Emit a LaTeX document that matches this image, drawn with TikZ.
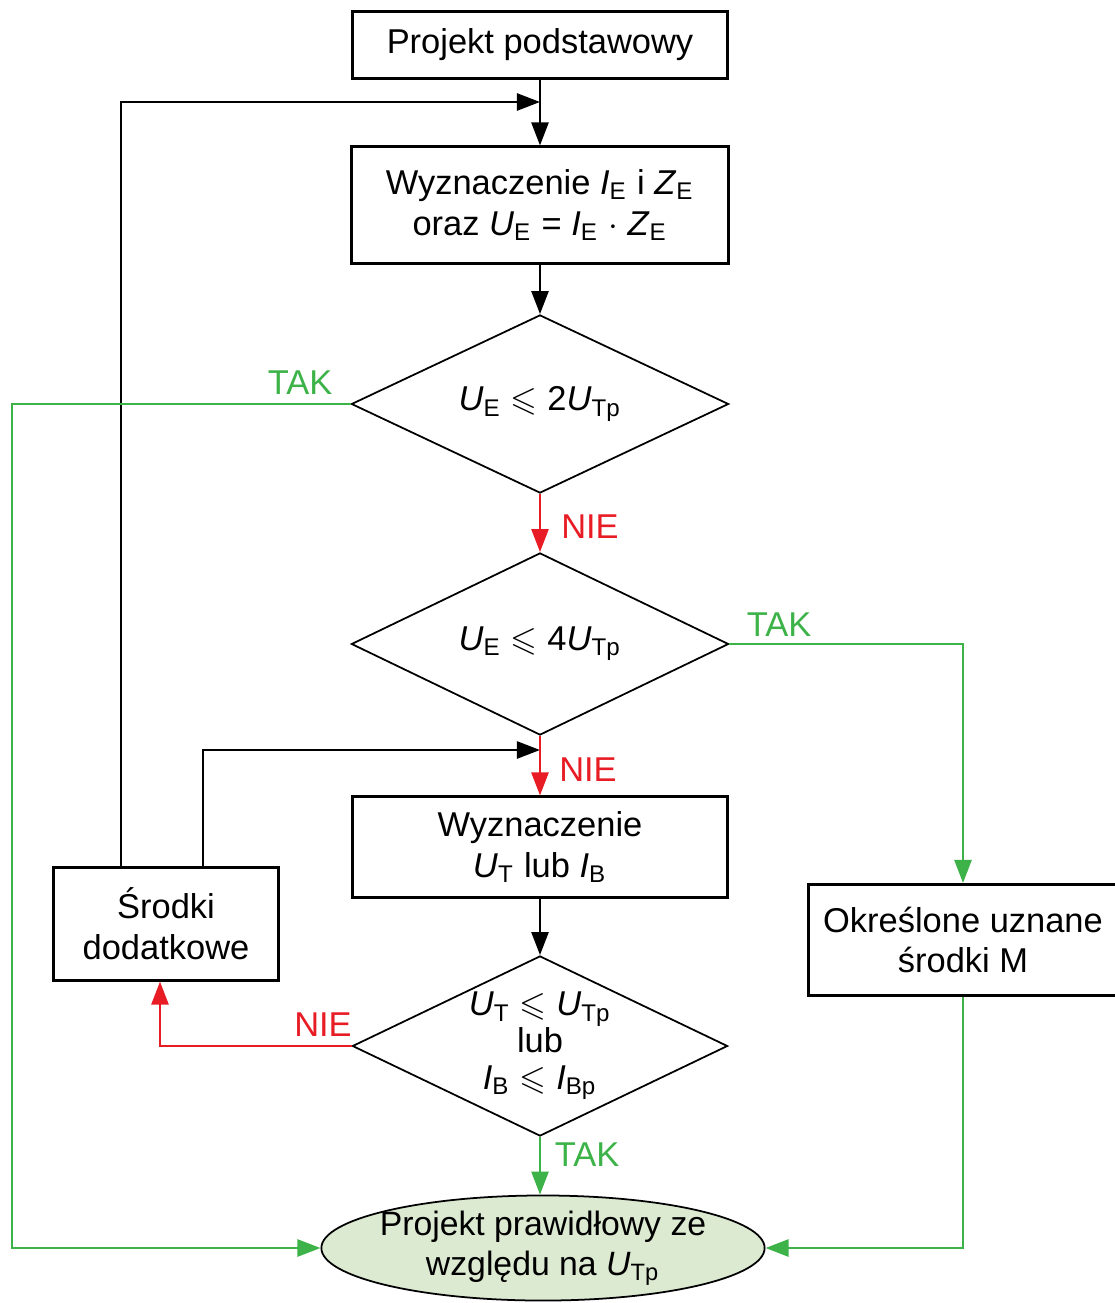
\documentclass[tikz,border=0pt]{standalone}
\usepackage{amsmath}
\usepackage{amssymb}
\usepackage{fontspec}
\setmainfont{Liberation Sans}
\usetikzlibrary{shapes.geometric,arrows.meta}
\definecolor{takgreen}{RGB}{60,178,72}
\definecolor{niered}{RGB}{232,28,36}
\definecolor{okfill}{RGB}{220,234,210}
\newcommand{\wlk}[2]{\textit{#1}\textsubscript{#2}}

\begin{document}
\begin{tikzpicture}[x=0.01cm, y=-0.01cm,
	font=\fontsize{9.8}{11.6}\selectfont,
	box/.style={draw, line width=0.85pt, align=center, inner sep=0pt},
	decision/.style={draw, diamond, line width=0.5pt, align=center, inner sep=0pt, aspect=2.1},
	final/.style={draw, ellipse, line width=0.5pt, fill=okfill, align=center, inner xsep=-0.12cm, inner ysep=-0.06cm},
	conn/.style={line width=0.7pt, -{Triangle[length=2.3mm,width=1.7mm]}},
	yes/.style={conn, draw=takgreen},
	no/.style={conn, draw=niered},
	yeslbl/.style={text=takgreen},
	nolbl/.style={text=niered}]
				\useasboundingbox (0,0) rectangle (1114,1303);
				\node[box, minimum width=3.74cm, minimum height=0.66cm] (base) at (540,45) {Projekt podstawowy};
				\node[box, minimum width=3.76cm, minimum height=1.16cm] (calcE) at (540,205) {Wyznaczenie \wlk{I}{E} i \wlk{Z}{E}\\oraz \wlk{U}{E} = \wlk{I}{E} $\cdot$ \wlk{Z}{E}};
				\node[decision, minimum width=3.77cm, minimum height=1.78cm] (chk2) at (540,404) {\wlk{U}{E} $\leqslant$ 2\wlk{U}{Tp}};
				\node[decision, minimum width=3.77cm, minimum height=1.82cm] (chk4) at (540,644) {\wlk{U}{E} $\leqslant$ 4\wlk{U}{Tp}};
				\node[box, minimum width=3.74cm, minimum height=1.0cm] (calcT) at (540,847) {Wyznaczenie\\\wlk{U}{T} lub \wlk{I}{B}};
				\node[decision, minimum width=3.75cm, minimum height=1.8cm, font=\fontsize{9.8}{10.5}\selectfont] (chkT) at (540,1046) {\wlk{U}{T} $\leqslant$ \wlk{U}{Tp}\\lub\\\wlk{I}{B} $\leqslant$ \wlk{I}{Bp}};
				\node[box, minimum width=2.25cm, minimum height=1.12cm] (extra) at (166,924) {Środki\\dodatkowe};
				\node[box, minimum width=3.09cm, minimum height=1.11cm] (listed) at (963,940) {Określone uznane\\środki M};
				\node[final, minimum width=4.43cm, minimum height=1.05cm, font=\fontsize{9.6}{11.4}\selectfont] (ok) at (543,1248) {Projekt prawidłowy ze\\względu na \wlk{U}{Tp}};
				\coordinate (join1) at (540,102);
				\coordinate (join2) at (540,750);
				\coordinate (leftturn) at (12,404);
				\node[yeslbl] (tak1) at (300,383) {TAK};
				\node[nolbl] (nie1) at (590,527) {NIE};
				\node[yeslbl] (tak2) at (779,625) {TAK};
				\node[nolbl] (nie2) at (588,770) {NIE};
				\node[nolbl] (nie3) at (323,1025) {NIE};
				\node[yeslbl] (tak3) at (587,1155) {TAK};
				\draw[conn] (base) -- (calcE);
				\draw[conn] ([xshift=-0.45cm]extra.north) |- (join1);
				\draw[conn] ([xshift=0.37cm]extra.north) |- (join2);
				\draw[conn] (calcE) -- (chk2);
				\draw[no] (chk2) -- (chk4);
				\draw[no] (chk4) -- (calcT);
				\draw[conn] (calcT) -- (chkT);
				\draw[yes] (chk2.west) -- (leftturn) |- (ok.west);
				\draw[yes] (chk4.east) -| (listed.north);
				\draw[no] (chkT.west) -| ([xshift=-0.06cm]extra.south);
				\draw[yes] (chkT.south) -- (chkT.south |- ok.north);
				\draw[yes] (listed.south) |- (ok.east);
			\end{tikzpicture}
\end{document}
